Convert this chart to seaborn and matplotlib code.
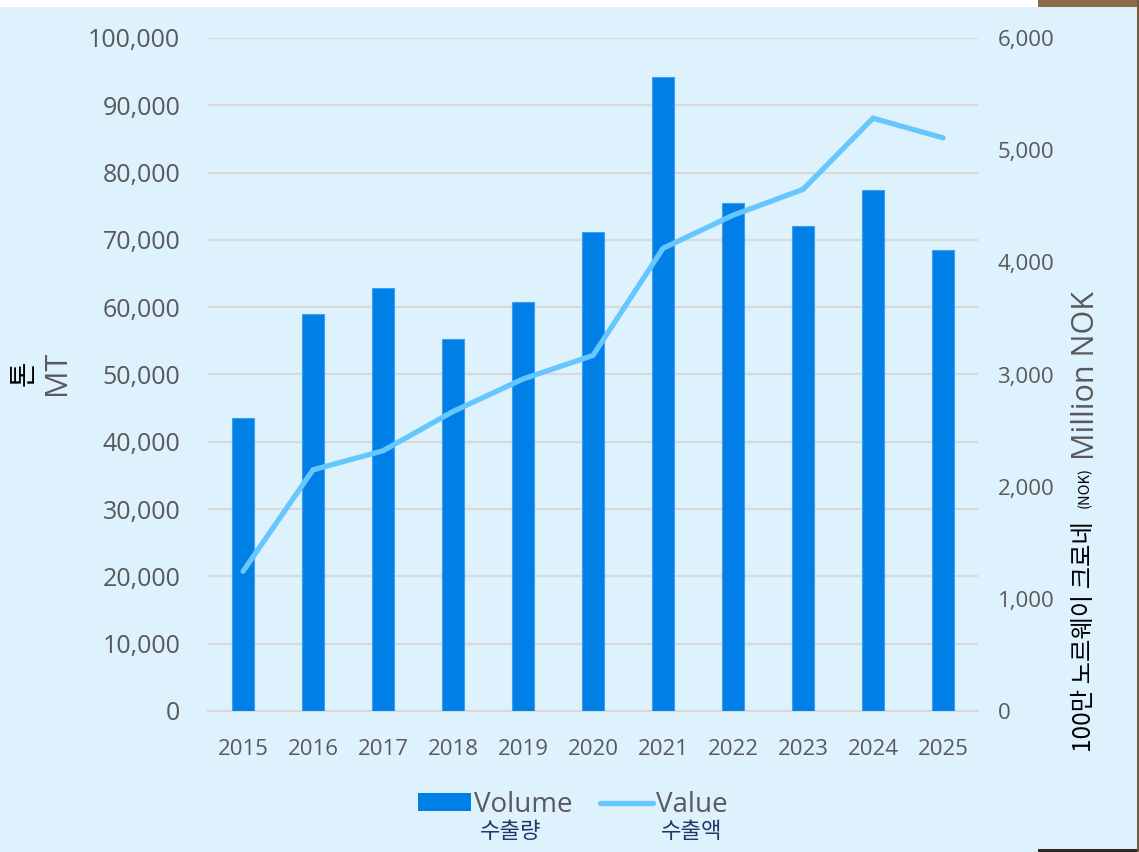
import pandas as pd
import seaborn as sns
import matplotlib.pyplot as plt
from matplotlib.patches import Rectangle
from matplotlib.lines import Line2D
from matplotlib.patches import Patch

# 데이터
years = ['2015', '2016', '2017', '2018', '2019', '2020', '2021', '2022', '2023', '2024', '2025']
volume_mt = [43600, 59000, 62900, 55300, 60800, 71200, 94200, 75500, 72100, 77400, 68500]
value_mnok = [1245, 2150, 2320, 2670, 2960, 3170, 4125, 4420, 4650, 5285, 5110]
left_ticks = [0, 10000, 20000, 30000, 40000, 50000, 60000, 70000, 80000, 90000, 100000]
right_ticks = [0, 1000, 2000, 3000, 4000, 5000, 6000]

BG = '#DEF2FE'
BAR = '#0080E6'
LINE = '#66C7FF'
GRID = '#D9D9D9'
TXT = '#595959'
NAVY = '#1F3864'

W, H = 1139, 852

sns.set_theme(style='white')
plt.rcParams['font.family'] = ['Open Sans', 'Noto Sans CJK KR', 'DejaVu Sans']

df = pd.DataFrame({'year': years, 'volume': volume_mt, 'value': value_mnok})

fig = plt.figure(figsize=(W / 100, H / 100), dpi=100, facecolor='white')

# 배경 (스크린샷 가장자리 포함)
fig.patches.append(Rectangle((0, 0), 1, 1 - 7 / H, transform=fig.transFigure,
                             facecolor=BG, edgecolor='none', zorder=-10))
fig.patches.append(Rectangle((1038 / W, 1 - 7 / H), 1, 7 / H, transform=fig.transFigure,
                             facecolor='#8A6C47', edgecolor='none', zorder=-9))
fig.patches.append(Rectangle((1038 / W, 0), 1, 3 / H, transform=fig.transFigure,
                             facecolor='#2B2B2B', edgecolor='none', zorder=-9))
fig.patches.append(Rectangle((1137 / W, 0), 1, 1, transform=fig.transFigure,
                             facecolor='#6E5A40', edgecolor='none', zorder=-9))

ax = fig.add_axes([208 / W, 1 - 711 / H, (978 - 208) / W, (711 - 38) / H])
ax.set_facecolor('none')

sns.barplot(data=df, x='year', y='volume', color=BAR, width=0.31, saturation=1,
            edgecolor='#3C9EF0', linewidth=0.8, ax=ax, zorder=3)
ax.set_xlim(-0.5, len(years) - 0.5)
ax.set_ylim(0, 100000)
ax.set_yticks(left_ticks)
ax.set_yticklabels([f'{t:,}' for t in left_ticks])
ax.yaxis.grid(True, color=GRID, linewidth=1.6, zorder=0)
ax.set_axisbelow(True)
ax.tick_params(axis='y', length=0, pad=20, labelsize=18, labelcolor=TXT)
ax.tick_params(axis='x', length=0, pad=20, labelsize=16, labelcolor=TXT)
ax.set_xlabel('')
ax.set_ylabel('')
for s in ['top', 'left', 'right']:
    ax.spines[s].set_visible(False)
ax.spines['bottom'].set_color(GRID)
ax.spines['bottom'].set_linewidth(1.6)

ax2 = ax.twinx()
sns.lineplot(data=df, x='year', y='value', color=LINE, linewidth=3.8, ax=ax2,
             solid_capstyle='round', solid_joinstyle='miter', zorder=4)
ax2.set_ylim(0, 6000)
ax2.set_yticks(right_ticks)
ax2.set_yticklabels([f'{t:,}' for t in right_ticks])
ax2.tick_params(axis='y', length=0, pad=14, labelsize=16, labelcolor=TXT)
ax2.set_ylabel('')
ax2.set_xlabel('')
for s in ['top', 'left', 'right', 'bottom']:
    ax2.spines[s].set_visible(False)

# 축 제목
fig.text(24 / W, 1 - 373 / H, '톤', rotation=90, ha='center', va='center',
         fontsize=20, color='black', family=['Noto Sans CJK KR'])
fig.text(57 / W, 1 - 373 / H, 'MT', rotation=90, ha='center', va='center',
         fontsize=22, color=TXT)
fig.text(1086 / W, 1 - 460 / H, 'Million NOK', rotation=90, ha='center', va='bottom',
         fontsize=22, color=TXT)
fig.text(1084 / W, 1 - 752 / H, '100만 노르웨이 크로네', rotation=90, ha='center', va='bottom',
         fontsize=17.5, color='black', family=['Noto Sans CJK KR'])
fig.text(1085 / W, 1 - 508 / H, '(NOK)', rotation=90, ha='center', va='bottom',
         fontsize=10.5, color='black', family=['Noto Sans CJK KR'])

# 범례
handles = [Patch(facecolor=BAR, edgecolor='none'),
           Line2D([], [], color=LINE, linewidth=3.8, solid_capstyle='round')]
fig.legend(handles, ['Volume', 'Value'], loc='center', bbox_to_anchor=(573 / W, 1 - 805 / H),
           ncol=2, frameon=False, fontsize=20, labelcolor=TXT, handlelength=1.9,
           handleheight=0.6, handletextpad=0.1, columnspacing=1.0)
fig.text(511 / W, 1 - 831 / H, '수출량', ha='center', va='center', fontsize=16,
         color=NAVY, family=['Noto Sans CJK KR'])
fig.text(692 / W, 1 - 831 / H, '수출액', ha='center', va='center', fontsize=16,
         color=NAVY, family=['Noto Sans CJK KR'])

fig.savefig('out.png', dpi=100, facecolor=fig.get_facecolor())
